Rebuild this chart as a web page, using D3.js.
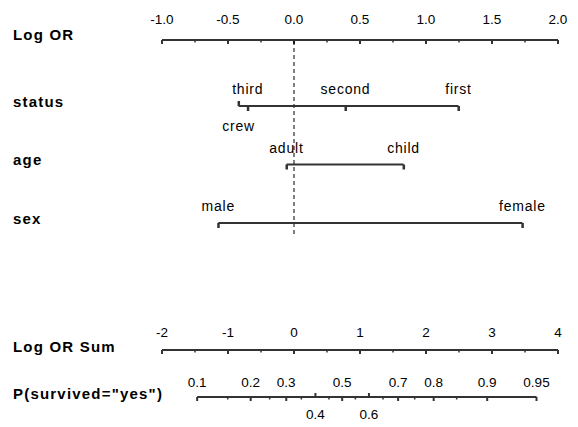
<!DOCTYPE html>
<html>
<head>
<meta charset="utf-8">
<script src="https://cdn.jsdelivr.net/npm/d3@7"></script>
<style>
body { margin: 0; background: #fff; }
text { font-family: "Liberation Sans", Arial, sans-serif; fill: #000; }
.rowlab { font-weight: bold; font-size: 15px; letter-spacing: 1.2px; }
.ticklab { font-size: 13.5px; }
.lvl { font-size: 14px; letter-spacing: 0.8px; }
</style>
</head>
<body>
<svg id="nomo" width="578" height="427"></svg>
<script>
// values
var logOrTicks = [-1.0, -0.5, 0.0, 0.5, 1.0, 1.5, 2.0];
var logOrMinor = [-0.75, -0.25, 0.25, 0.75, 1.25, 1.75];
var sumTicks = [-2, -1, 0, 1, 2, 3, 4];
var sumMinor = [-1.5, -0.5, 0.5, 1.5, 2.5, 3.5];
var probTicks = [0.1, 0.2, 0.3, 0.4, 0.5, 0.6, 0.7, 0.8, 0.9, 0.95];
var probMinor = [0.15, 0.25, 0.35, 0.45, 0.55, 0.65, 0.75, 0.85];
var priorLogOdds = -0.73;

var attributes = ["status", "age", "sex"];
var statusLevels = ["first", "second", "third", "crew"];
var statusValues = [1.246, 0.39, -0.35, -0.42];
var ageLevels = ["child", "adult"];
var ageValues = [0.83, -0.057];
var sexLevels = ["female", "male"];
var sexValues = [1.73, -0.574];

var levels = [statusLevels, ageLevels, sexLevels];
var values = [statusValues, ageValues, sexValues];

var svg = d3.select("#nomo");
var x = d3.scaleLinear().domain([-1, 2]).range([162, 558]);
var xs = d3.scaleLinear().domain([-2, 4]).range([162, 558]);
var rowY = d3.scalePoint().domain(attributes).range([106, 223]);
var axisY = 40, sumY = 350, probY = 397;
var lineCol = "#333";

function logit(p){ return Math.log(p / (1 - p)); }
function probX(p){ return xs(logit(p) - priorLogOdds); }

// row label on left
function rowLabel(t, y){
	svg.append("text").attr("class", "rowlab").attr("x", 13).attr("y", y + 1)
		.attr("dominant-baseline", "middle").text(t);
}

// plain axis with labels above
function drawAxis(scale, ticks, minor, y, fmt, up){
	var g = svg.append("g");
	g.append("line").attr("x1", scale(ticks[0])).attr("x2", scale(ticks[ticks.length-1]))
		.attr("y1", y).attr("y2", y).attr("stroke", lineCol).attr("stroke-width", 2);
	g.selectAll(".maj").data(ticks).enter().append("line")
		.attr("x1", d => scale(d)).attr("x2", d => scale(d))
		.attr("y1", y).attr("y2", y + 4).attr("stroke", lineCol).attr("stroke-width", 2);
	g.selectAll(".min").data(minor).enter().append("line")
		.attr("x1", d => scale(d)).attr("x2", d => scale(d))
		.attr("y1", y).attr("y2", y + 2.5).attr("stroke", lineCol).attr("stroke-width", 1.5);
	g.selectAll("text").data(ticks).enter().append("text")
		.attr("class", "ticklab").attr("text-anchor", "middle")
		.attr("x", d => scale(d)).attr("y", y - up).text(fmt);
}

// greedy label staggering, right to left
function stagger(items){
	var lastLeft = 1e9;
	items.slice().sort((a, b) => b.x - a.x).forEach(function(d){
		if(d.x + d.w / 2 > lastLeft - 13){ d.low = true; }
		else { d.low = false; lastLeft = d.x - d.w / 2; }
	});
}

function placeLabels(g, items, y, cls){
	var texts = g.selectAll("text.l").data(items).enter().append("text")
		.attr("class", cls + " l").attr("text-anchor", "middle")
		.attr("x", d => d.x).text(d => d.name);
	texts.each(function(d){ d.w = this.getComputedTextLength(); });
	stagger(items);
	texts.attr("y", d => d.low ? y + 25 : y - 12);
	g.selectAll("rect.m").data(items).enter().append("rect")
		.attr("x", d => d.x - 1).attr("width", 2.5)
		.attr("y", d => d.low ? y - 5 : y).attr("height", 5)
		.attr("fill", lineCol);
}

rowLabel("Log OR", axisY - 5);
drawAxis(x, logOrTicks, logOrMinor, axisY, d => d.toFixed(1), 16);

// zero reference
svg.append("line").attr("x1", x(0)).attr("x2", x(0))
	.attr("y1", axisY + 1).attr("y2", 236)
	.attr("stroke", "#000").attr("stroke-width", 1).attr("stroke-dasharray", "4,3");

attributes.forEach(function(a, i){
	var y = rowY(a);
	rowLabel(a, y - 4);
	var vals = values[i];
	var g = svg.append("g");
	g.append("line").attr("x1", x(d3.min(vals))).attr("x2", x(d3.max(vals)))
		.attr("y1", y).attr("y2", y).attr("stroke", lineCol).attr("stroke-width", 2);
	var items = levels[i].map((n, j) => ({name: n, x: x(vals[j])}));
	placeLabels(g, items, y, "lvl");
});

rowLabel("Log OR Sum", sumY - 3);
drawAxis(xs, sumTicks, sumMinor, sumY, d => String(d), 13);

rowLabel("P(survived=\"yes\")", probY - 3);
var pg = svg.append("g");
pg.append("line").attr("x1", probX(probTicks[0])).attr("x2", probX(probTicks[probTicks.length-1]))
	.attr("y1", probY).attr("y2", probY).attr("stroke", lineCol).attr("stroke-width", 2);
pg.selectAll(".min").data(probMinor).enter().append("line")
	.attr("x1", d => probX(d)).attr("x2", d => probX(d))
	.attr("y1", probY).attr("y2", probY + 2.5).attr("stroke", lineCol).attr("stroke-width", 1.5);
var pItems = probTicks.map(p => ({name: String(p), x: probX(p)}));
var pt = pg.selectAll("text.l").data(pItems).enter().append("text")
	.attr("class", "ticklab l").attr("text-anchor", "middle")
	.attr("x", d => d.x).text(d => d.name);
pt.each(function(d){ d.w = this.getComputedTextLength(); });
stagger(pItems);
pt.attr("y", d => d.low ? probY + 22 : probY - 10);
pg.selectAll(".maj").data(pItems).enter().append("line")
	.attr("x1", d => d.x).attr("x2", d => d.x)
	.attr("y1", d => d.low ? probY - 4 : probY).attr("y2", d => d.low ? probY : probY + 4)
	.attr("stroke", lineCol).attr("stroke-width", 2);
</script>
</body>
</html>
